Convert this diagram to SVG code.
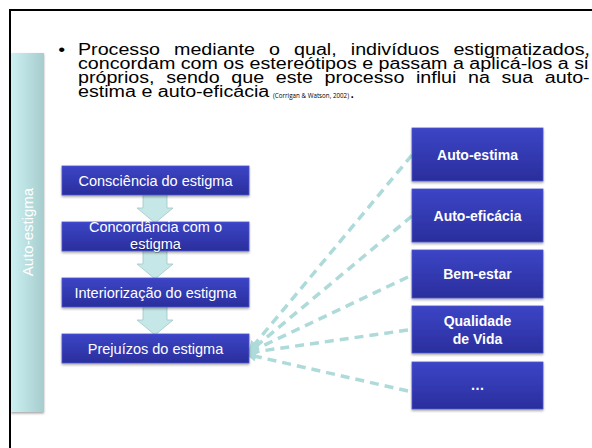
<svg xmlns="http://www.w3.org/2000/svg" width="592" height="448" viewBox="0 0 592 448">
<defs>
<linearGradient id="gBlue" x1="0" y1="0" x2="0" y2="1">
<stop offset="0" stop-color="#3c45c6"/>
<stop offset="1" stop-color="#2a2e9c"/>
</linearGradient>
<linearGradient id="gSide" x1="0" y1="0" x2="1" y2="0">
<stop offset="0" stop-color="#cdf1f3"/>
<stop offset="1" stop-color="#a6ccce"/>
</linearGradient>
<filter id="sh" x="-10%" y="-10%" width="120%" height="130%">
<feDropShadow dx="0" dy="1.5" stdDeviation="1" flood-color="#000" flood-opacity="0.35"/>
</filter>
<marker id="ah" viewBox="0 0 10 10" refX="2" refY="5" markerWidth="3" markerHeight="3" orient="auto">
<path d="M0,0 L10,5 L0,10 z" fill="#aedada"/>
</marker>
<style>
.box{fill:url(#gBlue);stroke:#4b53cc;stroke-width:0.8;filter:url(#sh)}
.lt{font-family:"Liberation Sans",Arial,sans-serif;font-size:14.5px;fill:#fff;text-anchor:middle}
.rt{font-family:"Liberation Sans",Arial,sans-serif;font-size:14px;font-weight:bold;fill:#fff;text-anchor:middle}
.hd{font-family:"Liberation Sans",Arial,sans-serif;font-size:16px;fill:#000}
.cite{font-family:"Open Sans","Liberation Sans",sans-serif;font-size:8px;fill:#000}
.arr{fill:#c6e7e7;stroke:#9ec6c6;stroke-width:0.8}
.dash{fill:none;stroke:#aedada;stroke-width:3.5;stroke-dasharray:9 6;marker-end:url(#ah)}
</style>
</defs>
<rect width="592" height="448" fill="#fff"/>
<path d="M10,448 V10 H592" fill="none" stroke="#000" stroke-width="2"/>

<g id="header">
<g transform="translate(78 0) scale(1.23 1)">
<text class="hd" x="-16" y="55.5">•</text>
<text class="hd" x="0" y="55.5" word-spacing="7">Processo mediante o qual, indivíduos estigmatizados,</text>
<text class="hd" x="0" y="69.5">concordam com os estereótipos e passam a aplicá-los a si</text>
<text class="hd" x="0" y="83.5" word-spacing="5">próprios, sendo que este processo influi na sua auto-</text>
<text class="hd" x="0" y="97.5">estima e auto-eficácia</text>
</g>
<text class="cite" x="273" y="97.5" textLength="76" lengthAdjust="spacingAndGlyphs">(Corrigan &amp; Watson, 2002)</text>
<text class="hd" x="350" y="97.5">.</text>
</g>

<g id="sidebar">
<rect x="11" y="53" width="33" height="359" fill="url(#gSide)" filter="url(#sh)"/>
<text x="27" y="232" transform="rotate(-90 27 232)" font-family="'Liberation Sans',Arial,sans-serif" font-size="15" fill="#fff" text-anchor="middle" dominant-baseline="central">Auto-estigma</text>
</g>

<g id="connectors">
<path class="arr" d="M143,194 H167 V208 H173 L155,223 L137,208 H143 Z"/>
<path class="arr" d="M143,250 H167 V264 H173 L155,279 L137,264 H143 Z"/>
<path class="arr" d="M143,306 H167 V320 H173 L155,335 L137,320 H143 Z"/>
<line class="dash" x1="412" y1="155" x2="254" y2="345"/>
<line class="dash" x1="412" y1="216" x2="254" y2="348"/>
<line class="dash" x1="408" y1="277" x2="254" y2="350"/>
<line class="dash" x1="408" y1="330" x2="254" y2="352"/>
<line class="dash" x1="408" y1="391" x2="254" y2="356"/>
</g>

<g id="n1"><rect class="box" x="62" y="166" width="187" height="29"/><text class="lt" x="155.5" y="186">Consciência do estigma</text></g>
<g id="n2"><rect class="box" x="62" y="222" width="187" height="29"/>
<text class="lt" x="155.5" y="232">Concordância com o</text>
<text class="lt" x="156" y="250" style="fill:#000;opacity:0.3">estigma</text>
<text class="lt" x="155.5" y="248.5">estigma</text></g>
<g id="n3"><rect class="box" x="62" y="278" width="187" height="29"/><text class="lt" x="155.5" y="297.5">Interiorização do estigma</text></g>
<g id="n4"><rect class="box" x="62" y="334" width="187" height="29"/><text class="lt" x="155.5" y="353.5">Prejuízos do estigma</text></g>

<g id="r1"><rect class="box" x="412" y="128" width="131" height="53"/><text class="rt" x="477.5" y="160">Auto-estima</text></g>
<g id="r2"><rect class="box" x="412" y="189" width="131" height="53"/><text class="rt" x="477.5" y="221">Auto-eficácia</text></g>
<g id="r3"><rect class="box" x="412" y="250" width="131" height="48"/><text class="rt" x="477.5" y="279">Bem-estar</text></g>
<g id="r4"><rect class="box" x="412" y="306" width="131" height="47"/><text class="rt" x="477.5" y="326">Qualidade</text><text class="rt" x="477.5" y="344">de Vida</text></g>
<g id="r5"><rect class="box" x="412" y="362" width="131" height="47"/><text class="rt" x="477.5" y="390">…</text></g>
</svg>
